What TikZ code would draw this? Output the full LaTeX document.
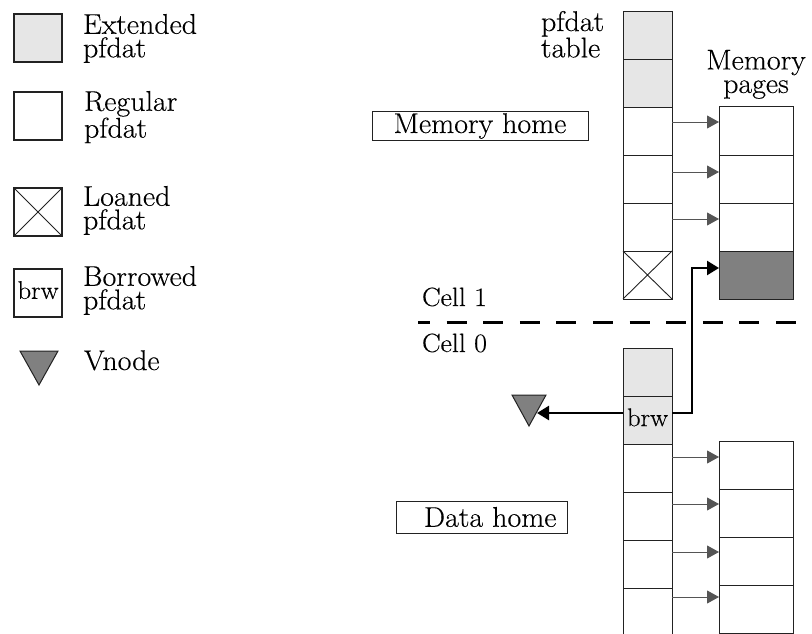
\documentclass[tikz,border=0pt]{standalone}
\usepackage{fontspec}
\setmainfont{Latin Modern Roman}[FakeBold=0.35, FakeStretch=1.05]
\usetikzlibrary{arrows.meta}
\definecolor{lightfill}{HTML}{E6E6E6}
\definecolor{darkfill}{HTML}{808080}
\definecolor{arrowgray}{HTML}{555555}
\definecolor{edge}{HTML}{222222}
\begin{document}
\begin{tikzpicture}[x=1pt,y=-1pt,
  cell/.style={draw=edge, line width=0.9pt, minimum width=49pt, minimum height=48pt, inner sep=0pt, outer sep=0pt, anchor=north west},
  extcell/.style={cell, fill=lightfill},
  pagecell/.style={draw=edge, line width=1pt, minimum width=74pt, minimum height=48pt, inner sep=0pt, outer sep=0pt, anchor=north west},
  legbox/.style={draw=edge, line width=1.3pt, minimum width=48pt, minimum height=48pt, inner sep=0pt, outer sep=0pt, anchor=north west},
  lbl/.style={font=\fontsize{28.5}{23.5}\selectfont, inner sep=0pt, outer sep=0pt},
  celllbl/.style={font=\fontsize{26.5}{24}\selectfont, inner sep=0pt, outer sep=0pt},
  brwtext/.style={font=\fontsize{25.5}{24}\selectfont},
  homebox/.style={draw=edge, line width=1pt, inner sep=0pt, font=\fontsize{28.5}{23.5}\selectfont},
  ptr/.style={draw=arrowgray, line width=0.9pt, -{Triangle[length=12pt,width=13pt]}},
  bptr/.style={draw=black, line width=2.4pt, -{Triangle[length=12pt,width=14pt]}},
  vnodeshape/.style={draw=edge, line width=1pt, fill=darkfill},
  cellline/.style={line width=3pt, dash pattern=on 20pt off 16.6pt, dash phase=8pt}
]
\useasboundingbox (0,0) rectangle (812,634);
\clip (0,0) rectangle (812,634);

% ---------- legend ----------
\node[legbox, fill=lightfill] (lgext) at (14,14) {};
\node[legbox] (lgreg) at (14,92) {};
\node[legbox] (lgloan) at (14,188) {};
\draw[line width=0.9pt, draw=edge] (lgloan.north west) -- (lgloan.south east) (lgloan.north east) -- (lgloan.south west);
\node[legbox, brwtext] (lgbrw) at (14,269) {\raisebox{6pt}{brw}};
\draw[vnodeshape] (20,351) -- (58,351) -- (39,385) -- cycle;

\node[lbl, anchor=north west, align=left] (tlext) at (83,14) {Extended\\pfdat};
\node[lbl, anchor=north west, align=left] (tlreg) at (84,91) {Regular\\pfdat};
\node[lbl, anchor=north west, align=left] (tlloan) at (83,186) {Loaned\\pfdat};
\node[lbl, anchor=north west, align=left] (tlbrw) at (83,266) {Borrowed\\pfdat};
\node[lbl, anchor=base west] (tlvn) at (84,370) {Vnode};

% ---------- cell 1 ----------
\node[lbl, anchor=north west, align=left] (ptab) at (541,11) {pfdat\\table};
\node[lbl, anchor=north, align=center] (mpg) at (756,50) {Memory\\pages};
\node[homebox, minimum width=216pt, minimum height=28pt] (mhome) at (480,126) {Memory home};

\node[extcell] (u1) at (623,11) {};
\node[extcell] (u2) at (623,59) {};
\node[cell] (u3) at (623,107) {};
\node[cell] (u4) at (623,155) {};
\node[cell] (u5) at (623,203) {};
\node[cell] (u6) at (623,251) {};
\draw[line width=0.9pt, draw=edge] (u6.north west) -- (u6.south east) (u6.north east) -- (u6.south west);

\node[pagecell] (m1) at (719,107) {};
\node[pagecell] (m2) at (719,155) {};
\node[pagecell] (m3) at (719,203) {};
\node[pagecell, fill=darkfill] (m4) at (719,251) {};

\draw[ptr] ([yshift=9pt]u3.east) -- ([yshift=9pt]u3.east -| m1.west);
\draw[ptr] ([yshift=7pt]u4.east) -- ([yshift=7pt]u4.east -| m2.west);
\draw[ptr] ([yshift=8pt]u5.east) -- ([yshift=8pt]u5.east -| m3.west);

% ---------- divider ----------
\node[celllbl, anchor=base west] (c1) at (422,306) {Cell 1};
\node[celllbl, anchor=base west] (c0) at (422,352) {Cell 0};
\coordinate (dl) at (418,322);
\coordinate (dr) at (812,322);
\draw[cellline] (dl) -- (dr);

% ---------- cell 0 ----------
\node[homebox, minimum width=171pt, minimum height=32pt] (dhome) at (481.5,517) {\hspace{17.5pt}\raisebox{-2.5pt}{Data home}};

\node[extcell] (l1) at (623,348) {};
\node[extcell, brwtext] (l2) at (623,396) {\raisebox{5.5pt}{brw}};
\node[cell] (l3) at (623,444) {};
\node[cell] (l4) at (623,492) {};
\node[cell] (l5) at (623,540) {};
\node[cell] (l6) at (623,588) {};

\node[pagecell] (n1) at (719,441) {};
\node[pagecell] (n2) at (719,489) {};
\node[pagecell] (n3) at (719,537) {};
\node[pagecell] (n4) at (719,585) {};

\draw[ptr] ([yshift=11pt]l3.east) -- ([yshift=11pt]l3.east -| n1.west);
\draw[ptr] ([yshift=12pt]l4.east) -- ([yshift=12pt]l4.east -| n2.west);
\draw[ptr] ([yshift=12pt]l5.east) -- ([yshift=12pt]l5.east -| n3.west);
\draw[ptr] ([yshift=15pt]l6.east) -- ([yshift=15pt]l6.east -| n4.west);

\draw[vnodeshape] (512,395) -- (546,395) -- (529,426) -- cycle;
\coordinate (vtip) at (537,413);
\draw[bptr] ([yshift=7pt]l2.west) -- (vtip);
\draw[bptr] ([yshift=7pt]l2.east) -- ++(20,0) |- ([yshift=7pt]m4.west);
\end{tikzpicture}
\end{document}
